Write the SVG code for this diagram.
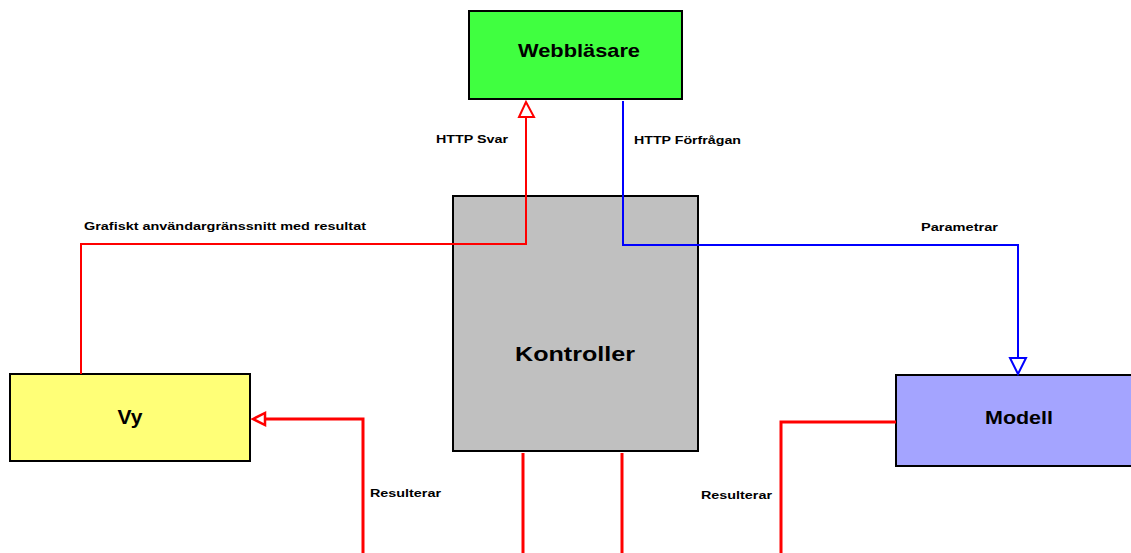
<svg xmlns="http://www.w3.org/2000/svg" width="1131" height="553" viewBox="0 0 1131 553">
<style>
.box{stroke:#000;stroke-width:2}
.nl{font-family:"Liberation Sans",Arial,sans-serif;font-weight:bold;fill:#000;text-anchor:middle}
.el{font-family:"Liberation Sans",Arial,sans-serif;font-weight:bold;font-size:11.5px;fill:#000}
.red{fill:none;stroke:#ff0000;stroke-width:2}
.redt{fill:none;stroke:#ff0000;stroke-width:3}
.blue{fill:none;stroke:#0000ff;stroke-width:2}
</style>
<rect width="1131" height="553" fill="#fff"/>
<g id="webblasare">
<rect class="box" x="469" y="11" width="213" height="88" fill="#40ff40"/>
<text class="nl" x="579" y="57" font-size="19" textLength="122" lengthAdjust="spacingAndGlyphs">Webbläsare</text>
</g>
<g id="kontroller">
<rect class="box" x="453" y="196" width="245" height="255" fill="#c0c0c0"/>
<text class="nl" x="575" y="361" font-size="21" textLength="120" lengthAdjust="spacingAndGlyphs">Kontroller</text>
</g>
<g id="vy">
<rect class="box" x="10" y="374" width="240" height="87" fill="#ffff77"/>
<text class="nl" x="130" y="424" font-size="21" textLength="25" lengthAdjust="spacingAndGlyphs">Vy</text>
</g>
<g id="modell">
<rect class="box" x="896" y="375" width="240" height="91" fill="#a4a4ff"/>
<text class="nl" x="1019" y="424" font-size="19" textLength="68" lengthAdjust="spacingAndGlyphs">Modell</text>
</g>
<g id="connectors">
<polyline class="red" points="81,374 81,244 526,244 526,117"/>
<polygon points="526,102 519,117 534,117" fill="#fff" stroke="#ff0000" stroke-width="2"/>
<polyline class="blue" points="623,101 623,245 1018,245 1018,358"/>
<polygon points="1018,374 1010,358 1026,358" fill="#fff" stroke="#0000ff" stroke-width="2"/>
<polyline class="redt" points="363,553 363,419 265,419"/>
<polygon points="253,419 265,413 265,425" fill="#fff" stroke="#ff0000" stroke-width="2.5"/>
<line class="redt" x1="523" y1="453" x2="523" y2="553"/>
<line class="redt" x1="622" y1="453" x2="622" y2="553"/>
<polyline class="redt" points="896,422 781,422 781,553"/>
<text class="el" x="436" y="143" textLength="72" lengthAdjust="spacingAndGlyphs">HTTP Svar</text>
<text class="el" x="634" y="144" textLength="107" lengthAdjust="spacingAndGlyphs">HTTP Förfrågan</text>
<text class="el" x="84" y="230" textLength="282" lengthAdjust="spacingAndGlyphs">Grafiskt användargränssnitt med resultat</text>
<text class="el" x="921" y="231" textLength="77" lengthAdjust="spacingAndGlyphs">Parametrar</text>
<text class="el" x="370" y="497" textLength="71" lengthAdjust="spacingAndGlyphs">Resulterar</text>
<text class="el" x="701" y="499" textLength="71" lengthAdjust="spacingAndGlyphs">Resulterar</text>
</g>
</svg>
